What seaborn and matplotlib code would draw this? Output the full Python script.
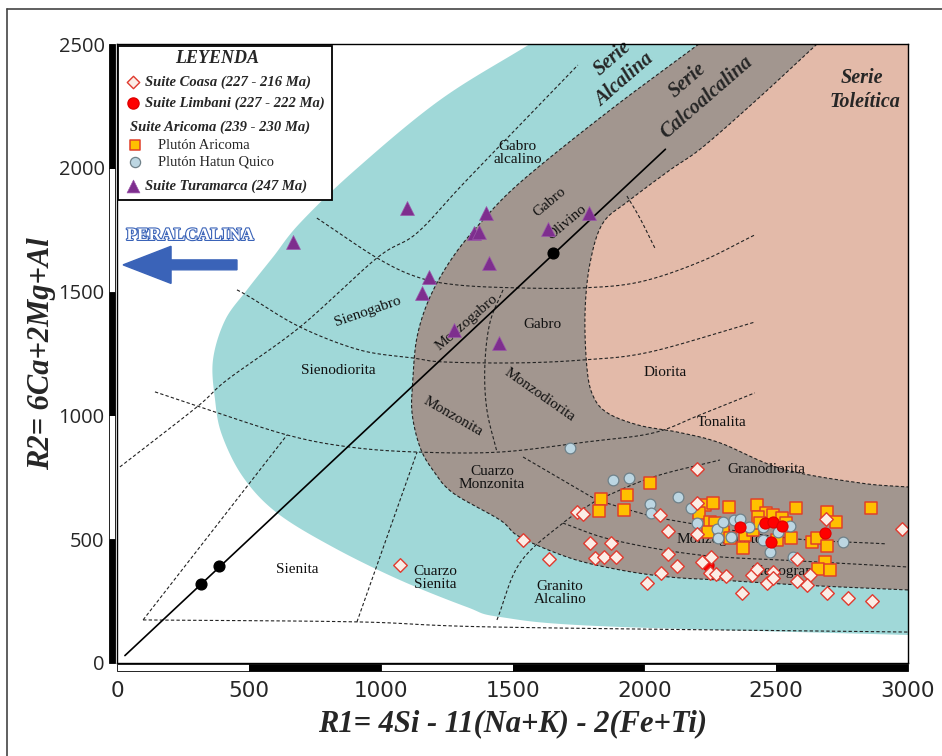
import numpy as np
import pandas as pd
import matplotlib
matplotlib.use("Agg")
import matplotlib.pyplot as plt
import seaborn as sns
from matplotlib.patches import Polygon, Rectangle, FancyArrow
from matplotlib.lines import Line2D
import matplotlib.transforms as mtransforms
import matplotlib.patheffects as pe

sns.set_theme(style="white")
plt.rcParams['font.family'] = ['Liberation Serif', 'DejaVu Serif']

# ---------------- sample data (R1, R2) ----------------
coasa_r1 = [1073, 1540, 1638, 1744, 1767, 1794, 1813, 1847, 1873, 1892, 2010, 2059, 2063,
            2089, 2089, 2124, 2199, 2199, 2199, 2218, 2252, 2249, 2271, 2309, 2370, 2408,
            2427, 2465, 2488, 2488, 2579, 2579, 2628, 2616, 2689, 2692, 2772, 2863, 2977]
coasa_r2 = [396, 497, 420, 610, 602, 485, 424, 428, 485, 428, 323, 598, 364,
            533, 440, 392, 784, 646, 521, 408, 428, 364, 359, 351, 283, 355,
            380, 323, 368, 343, 420, 331, 355, 315, 582, 283, 263, 250, 541]

limbani_r1 = [2362, 2457, 2488, 2522, 2480, 2685, 2241]
limbani_r2 = [549, 565, 570, 553, 489, 525, 396]

aricoma_r1 = [1835, 1828, 1934, 1923, 2021, 2230, 2260, 2207, 2321, 2427, 2461, 2488,
              2431, 2249, 2268, 2241, 2298, 2381, 2412, 2438, 2522, 2537, 2324, 2374,
              2575, 2692, 2726, 2859, 2556, 2635, 2654, 2692, 2685, 2658, 2704, 2503]
aricoma_r2 = [662, 614, 679, 618, 727, 638, 646, 606, 630, 638, 606, 598,
              590, 569, 565, 529, 529, 517, 537, 565, 586, 565, 505, 464,
              626, 610, 569, 626, 505, 489, 505, 473, 408, 380, 376, 497]

hatun_r1 = [1718, 1881, 1942, 2127, 2021, 2025, 2177, 2199, 2275, 2279, 2298,
            2328, 2340, 2362, 2397, 2450, 2450, 2476, 2507, 2552, 2563, 2753]
hatun_r2 = [868, 739, 747, 670, 642, 606, 626, 565, 541, 505, 569,
            509, 578, 582, 549, 549, 497, 448, 529, 553, 428, 489]

turamarca_r1 = [667, 1100, 1399, 1354, 1373, 1183, 1157, 1411, 1634, 1790, 1278, 1449]
turamarca_r2 = [1700, 1838, 1817, 1737, 1741, 1559, 1494, 1616, 1753, 1817, 1345, 1292]

# reference points on the alkaline / calc-alkaline trend line
trend_r1 = [320, 385, 1655]
trend_r2 = [320, 390, 1655]

# ---------------- field boundaries (R1, R2) ----------------
alk_outer = [(1566, 2500), (1225, 2274), (903, 1991), (694, 1777), (592, 1640), (493, 1507),
             (410, 1385), (364, 1224), (372, 1062), (398, 921), (478, 751), (607, 606),
             (819, 468), (1073, 335), (1327, 226), (1452, 186), (1832, 149), (3000, 113)]
calc_outer = [(2207, 2500), (1870, 2233), (1540, 1951), (1388, 1789), (1274, 1640),
              (1187, 1478), (1138, 1317), (1122, 1143), (1119, 1010), (1149, 872),
              (1198, 779), (1274, 687), (1452, 578), (1528, 509), (1718, 424), (1907, 376),
              (2097, 347), (2287, 335), (2590, 315), (3000, 295)]
thol_outer = [(2655, 2500), (2438, 2286), (2222, 2084), (2097, 1991), (1945, 1870),
              (1843, 1777), (1794, 1615), (1775, 1414), (1782, 1195), (1805, 1080),
              (1860, 1010), (1980, 960), (2124, 933), (2287, 889), (2520, 785),
              (2818, 727), (3000, 711)]

field_lines = [
    [(11, 792), (303, 1034), (417, 1143), (694, 1357), (986, 1636), (1138, 1737),
     (1327, 1951), (1748, 2415)],
    [(758, 1797), (986, 1636), (1138, 1559), (1289, 1527), (1517, 1515), (1767, 1515),
     (1983, 1539), (2211, 1620), (2419, 1729)],
    [(455, 1507), (504, 1478), (694, 1357), (921, 1264), (1122, 1232), (1236, 1216),
     (1517, 1212), (1767, 1224), (2021, 1256), (2419, 1377)],
    [(144, 1095), (315, 1034), (645, 921), (884, 872), (1138, 852), (1452, 852),
     (1782, 893), (2033, 929), (2211, 1002), (2419, 1091)],
    [(1934, 1886), (1983, 1797), (2040, 1676)],
    [(1464, 1507), (1414, 1373), (1395, 1196), (1403, 1022), (1441, 852)],
    [(99, 174), (645, 921)],
    [(99, 174), (910, 166), (1452, 145), (3000, 125)],
    [(910, 166), (1138, 852)],
    [(1441, 174), (1528, 404), (1691, 565), (1820, 658)],
    [(1540, 832), (1820, 658)],
    [(1820, 658), (2033, 751), (2287, 820)],
    [(1691, 565), (1881, 497), (2211, 436), (2590, 412), (2996, 388)],
    [(1820, 658), (1983, 606), (2097, 578), (2541, 505), (2920, 481)],
]

field_names = [
    ("Sienogabro", 952, 1418, 19), ("Gabro", 1612, 1369, 0), ("Sienodiorita", 838, 1183, 0),
    ("Monzogabro", 1327, 1377, 41), ("Monzodiorita", 1604, 1082, -35),
    ("Diorita", 2078, 1175, 0), ("Monzonita", 1274, 994, -30), ("Tonalita", 2294, 973, 0),
    ("Cuarzo\nMonzonita", 1422, 747, 0), ("Granodiorita", 2461, 780, 0),
    ("Monzogranito", 2287, 497, 0), ("Sienogranito", 2552, 368, 0),
    ("Sienita", 683, 376, 0), ("Cuarzo\nSienita", 1206, 343, 0),
    ("Granito\nAlcalino", 1680, 283, 0), ("Gabro\nalcalino", 1520, 2060, 0),
    ("Gabro", 1642, 1862, 40), ("Olivino", 1706, 1781, 40),
]
series_names = [
    ("Serie", 1877, 2444, 41), ("Alcalina", 1923, 2355, 41),
    ("Serie", 2165, 2355, 41), ("Calcoalcalina", 2237, 2286, 41),
    ("Serie", 2825, 2363, 0), ("Toleítica", 2836, 2266, 0),
]


def smooth(pts, n=24):
    p = np.asarray(pts, float)
    if len(p) < 3:
        return p
    p = np.vstack([2 * p[0] - p[1], p, 2 * p[-1] - p[-2]])
    out = []
    t = np.linspace(0, 1, n, endpoint=False)[:, None]
    for i in range(1, len(p) - 2):
        p0, p1, p2, p3 = p[i - 1], p[i], p[i + 1], p[i + 2]
        out.append(0.5 * (2 * p1 + (-p0 + p2) * t + (2 * p0 - 5 * p1 + 4 * p2 - p3) * t ** 2
                          + (-p0 + 3 * p1 - 3 * p2 + p3) * t ** 3))
    out.append(p[-2][None])
    return np.vstack(out)


fig = plt.figure(figsize=(9.42, 7.56), dpi=100)
ax = fig.add_axes([117 / 942, 1 - 663 / 756, 791 / 942, 619 / 756])
ax.set_xlim(0, 3000)
ax.set_ylim(0, 2500)

# series fields
for curve, color in [(alk_outer, '#A0D8D8'), (calc_outer, '#A2968F'), (thol_outer, '#E3BAA9')]:
    c = smooth(curve)
    poly = np.vstack([c, [(3200, c[-1][1]), (3200, 2700), (c[0][0], 2700)]])
    ax.add_patch(Polygon(poly, closed=True, facecolor=color, edgecolor='none', zorder=0))
for curve in (calc_outer, thol_outer):
    c = smooth(curve)
    ax.plot(c[:, 0], c[:, 1], color='#222222', lw=0.8, ls=(0, (3, 2)), zorder=1)

for line in field_lines:
    c = smooth(line)
    ax.plot(c[:, 0], c[:, 1], color='#222222', lw=0.8, ls=(0, (3, 2)), zorder=1)

# trend line
ax.plot([30, 2080], [30, 2075], color='black', lw=1.2, zorder=2)
ax.scatter(trend_r1, trend_r2, s=60, color='black', zorder=3)

for name, x, y, rot in field_names:
    ax.text(x, y, name, fontsize=11, ha='center', va='center', rotation=rot,
            rotation_mode='anchor', linespacing=1.05, color='#111111', zorder=2)
for name, x, y, rot in series_names:
    ax.text(x, y, name, fontsize=14.5, ha='center', va='center', rotation=rot,
            rotation_mode='anchor', fontweight='bold', fontstyle='italic', zorder=2)

# samples
df_ar = pd.DataFrame({'R1': aricoma_r1, 'R2': aricoma_r2})
df_hq = pd.DataFrame({'R1': hatun_r1, 'R2': hatun_r2})
df_li = pd.DataFrame({'R1': limbani_r1, 'R2': limbani_r2})
df_co = pd.DataFrame({'R1': coasa_r1, 'R2': coasa_r2})
df_tu = pd.DataFrame({'R1': turamarca_r1, 'R2': turamarca_r2})

sns.scatterplot(data=df_ar, x='R1', y='R2', marker='s', s=66, color='#FFC000',
                edgecolor='#E0402A', linewidth=1.1, ax=ax, zorder=4, legend=False)
sns.scatterplot(data=df_hq, x='R1', y='R2', marker='o', s=60, color='#BCD6E2',
                edgecolor='#6F8189', linewidth=0.9, ax=ax, zorder=5, legend=False)
sns.scatterplot(data=df_li, x='R1', y='R2', marker='o', s=64, color='#FF0000',
                edgecolor='#E00000', linewidth=0.8, ax=ax, zorder=6, legend=False)
sns.scatterplot(data=df_co, x='R1', y='R2', marker='D', s=48, color='#FBEDE6',
                edgecolor='#E03A2F', linewidth=1.0, ax=ax, zorder=7, legend=False)
sns.scatterplot(data=df_tu, x='R1', y='R2', marker='^', s=100, color='#7E2E8E',
                edgecolor='#9A55AA', linewidth=0.5, ax=ax, zorder=8, legend=False)

# peralkaline direction
ax.add_patch(FancyArrow(455, 1608, -432, 0, width=40, head_width=150, head_length=182,
                        length_includes_head=True, color='#3A63B8', zorder=3))
ax.text(277, 1725, "PERALCALINA", fontsize=12.5, fontweight='bold', color='white',
        ha='center', va='center', zorder=3,
        path_effects=[pe.withStroke(linewidth=1.6, foreground='#3A63B8')])

# axes styling
ax.set_xticks([0, 500, 1000, 1500, 2000, 2500, 3000])
ax.set_yticks([0, 500, 1000, 1500, 2000, 2500])
ax.tick_params(axis='both', length=0)
ax.tick_params(axis='y', pad=9)
ax.tick_params(axis='x', pad=13)
for lab in ax.get_xticklabels():
    lab.set_fontfamily(['Liberation Sans Narrow', 'DejaVu Sans'])
    lab.set_fontsize(15.5)
for lab in ax.get_yticklabels():
    lab.set_fontfamily(['Open Sans', 'DejaVu Sans'])
    lab.set_fontsize(14.5)
for sp in ax.spines.values():
    sp.set_color('black')
    sp.set_linewidth(1.0)
    sp.set_zorder(9)

ax.set_xlabel("R1= 4Si - 11(Na+K) - 2(Fe+Ti)", fontsize=22, fontweight='bold',
              fontstyle='italic', labelpad=6)
ax.set_ylabel("R2= 6Ca+2Mg+Al", fontsize=22, fontweight='bold', fontstyle='italic',
              labelpad=2)

# alternating scale bars along the axes
ty = mtransforms.blended_transform_factory(ax.transAxes, ax.transData)
tx = mtransforms.blended_transform_factory(ax.transData, ax.transAxes)
for i, y0 in enumerate(range(0, 2500, 500)):
    fc = 'black' if i % 2 == 0 else 'white'
    ax.add_patch(Rectangle((-0.0105, y0), 0.0085, 500, transform=ty, facecolor=fc,
                           edgecolor='black', lw=0.6, clip_on=False, zorder=10))
for i, x0 in enumerate(range(0, 3000, 500)):
    fc = 'white' if i % 2 == 0 else 'black'
    ax.add_patch(Rectangle((x0, -0.0135), 500, 0.0115, transform=tx, facecolor=fc,
                           edgecolor='black', lw=0.6, clip_on=False, zorder=10))

# legend panel
T = ax.transAxes
ax.add_patch(Rectangle((0.0013, 0.748), 0.2705, 0.2488, transform=T, facecolor='white',
                       edgecolor='black', lw=1.3, zorder=11))
ax.text(0.1265, 0.977, "LEYENDA", transform=T, fontsize=13, fontweight='bold',
        fontstyle='italic', ha='center', va='center', zorder=12)
bi = dict(fontsize=10.5, fontweight='bold', fontstyle='italic', va='center', zorder=12,
          transform=T)
rg = dict(fontsize=10.5, va='center', zorder=12, transform=T)
ax.scatter([0.0202], [0.9386], marker='D', s=40, color='#FBEDE6', edgecolor='#E03A2F',
           lw=1.0, transform=T, zorder=12, clip_on=False)
ax.text(0.0354, 0.9386, "Suite Coasa (227 - 216 Ma)", **bi)
ax.scatter([0.0202], [0.9047], marker='o', s=64, color='#FF0000', edgecolor='#E00000',
           transform=T, zorder=12, clip_on=False)
ax.text(0.0354, 0.9047, "Suite Limbani (227 - 222 Ma)", **bi)
ax.text(0.0164, 0.8659, "Suite Aricoma (239 - 230 Ma)", **bi)
ax.scatter([0.0228], [0.8368], marker='s', s=54, color='#FFC000', edgecolor='#E0402A',
           lw=1.1, transform=T, zorder=12, clip_on=False)
ax.text(0.0518, 0.8368, "Plutón Aricoma", **rg)
ax.scatter([0.0228], [0.8094], marker='o', s=54, color='#BCD6E2', edgecolor='#6F8189',
           lw=0.9, transform=T, zorder=12, clip_on=False)
ax.text(0.0518, 0.8094, "Plutón Hatun Quico", **rg)
ax.scatter([0.0202], [0.7706], marker='^', s=85, color='#7E2E8E', edgecolor='#9A55AA',
           lw=0.5, transform=T, zorder=12, clip_on=False)
ax.text(0.0354, 0.7706, "Suite Turamarca (247 Ma)", **bi)

# outer frame
fig.add_artist(Line2D([7 / 942, 1.0], [1 - 9 / 756] * 2, transform=fig.transFigure,
                      color='#444444', lw=1.2))
fig.add_artist(Line2D([7 / 942] * 2, [0.0, 1 - 9 / 756], transform=fig.transFigure,
                      color='#444444', lw=1.2))

fig.savefig("out.png", dpi=100)
